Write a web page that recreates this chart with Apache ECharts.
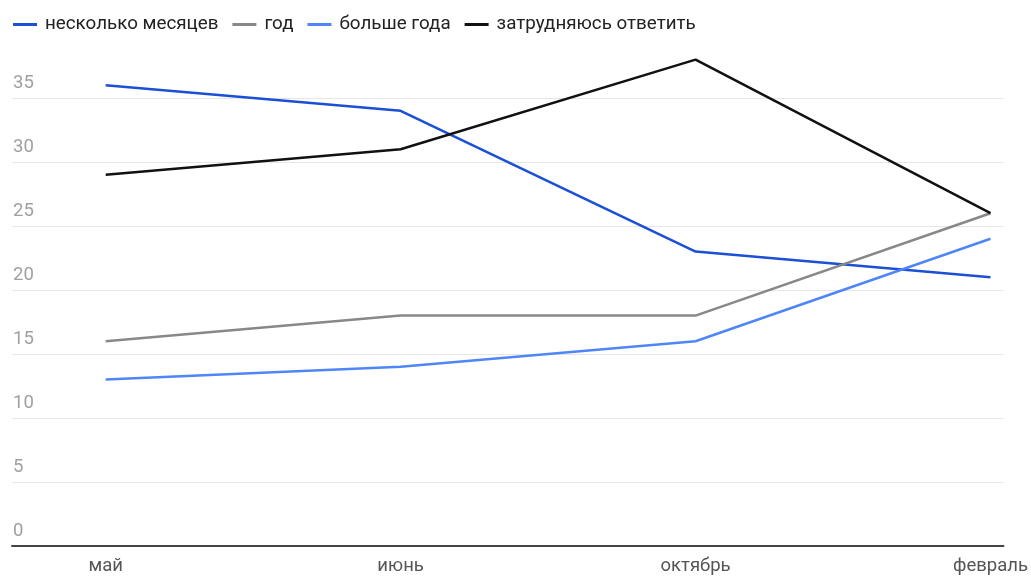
<!DOCTYPE html>
<html><head><meta charset="utf-8">
<script src="https://cdn.jsdelivr.net/npm/echarts@6/dist/echarts.min.js"></script>
<style>html,body{margin:0;padding:0;background:#fff}#c{width:1031px;height:576px}</style>
</head><body><div id="c"></div>
<script>
const categories = ['май', 'июнь', 'октябрь', 'февраль'];
const seriesNames = ['несколько месяцев', 'год', 'больше года', 'затрудняюсь ответить'];
const severalMonths = [36, 34, 23, 21];
const year = [16, 18, 18, 26];
const moreThanYear = [13, 14, 16, 24];
const hardToSay = [29, 31, 38, 26];
const yTicks = [0, 5, 10, 15, 20, 25, 30, 35];
const colors = ['#1a4fd6', '#888888', '#4f86f7', '#111111'];

const allValues = [severalMonths, year, moreThanYear, hardToSay];
const chart = echarts.init(document.getElementById('c'));
const font = 'Roboto, "Noto Sans", sans-serif';
chart.setOption({
  animation: false,
  color: colors,
  legend: {
    left: 8, top: 10,
    itemWidth: 24, itemHeight: 3, itemGap: 14,
    icon: 'rect',
    textStyle: { fontFamily: font, fontSize: 18.8, color: '#222', padding: [0, 0, 0, 3] },
    data: seriesNames
  },
  grid: { left: 12, right: 24, top: 34, bottom: 30 },
  xAxis: {
    type: 'value',
    min: -0.3176, max: 3.0439,
    axisLine: { show: true, onZero: false, lineStyle: { color: '#444', width: 2 } },
    axisTick: { show: false },
    splitLine: { show: false },
    axisLabel: {
      customValues: categories.map((c, i) => i),
      formatter: v => categories[Math.round(v)],
      fontFamily: font, fontSize: 18.5, color: '#555', margin: 11
    }
  },
  yAxis: {
    type: 'value', min: 0, max: 40, interval: 5,
    axisLine: { show: false }, axisTick: { show: false },
    splitLine: { show: true, showMaxLine: false, showMinLine: false, lineStyle: { color: '#e6e6e6', width: 1 } },
    axisLabel: {
      inside: true, margin: 1, showMaxLabel: false,
      verticalAlign: 'bottom', padding: [0, 0, 5, 0],
      fontFamily: font, fontSize: 18.5, color: '#a0a0a0',
      formatter: v => (yTicks.indexOf(v) >= 0 ? String(v) : '')
    }
  },
  series: seriesNames.map((name, si) => ({
    name, type: 'line',
    data: allValues[si].map((v, i) => [i, v]),
    showSymbol: false, symbol: 'none',
    lineStyle: { width: 2.5, color: colors[si] }
  }))
});
</script></body></html>
